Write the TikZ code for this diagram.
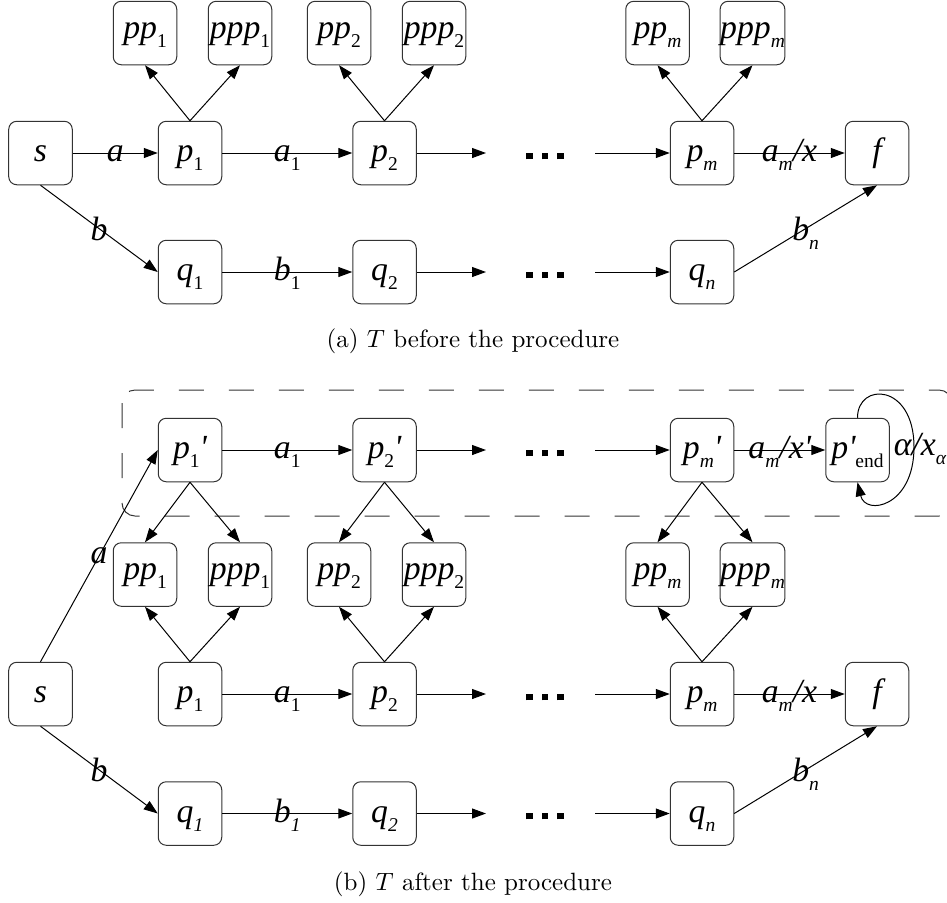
\documentclass[tikz,border=0pt]{standalone}
\usepackage{fontspec}
\usetikzlibrary{arrows.meta}
\newfontfamily\tnr{Liberation Serif}[Ligatures=ResetAll]
\newfontfamily\tnri{Liberation Serif Italic}[Ligatures=ResetAll]
\newcommand\mainf{\fontsize{13.5}{14}\selectfont\tnri}
\newcommand\sbs[1]{\raisebox{-3.6pt}{\fontsize{7.8}{8}\selectfont #1}}
\newcommand\upr{\tnr}
\newcommand\prm{\char"27\relax}
\newcommand\alp{\char"3B1\relax}
\newcommand\dotsq{\rule{2.7pt}{2.7pt}}
\tikzset{
  box/.style={draw=black!80, line width=0.4pt, rounded corners=3.2pt,
    minimum width=25.4pt, minimum height=25.4pt, inner sep=0pt,
    text height=7pt, text depth=0pt, font=\mainf},
  topbox/.style={box, text height=4pt},
  elbl/.style={font=\mainf, inner sep=0pt, anchor=base, yshift=-3.4pt},
  dlbl/.style={font=\mainf, inner sep=0pt, text depth=0pt, anchor=center},
  arr/.style={-{Triangle[length=5.6pt,width=4pt]}, line width=0.4pt},
  dotsnode/.style={inner sep=0pt},
  caption/.style={anchor=base, inner sep=0pt, font=\normalsize},
  groupbox/.style={draw=black!80, line width=0.4pt, rounded corners=5.2pt,
    dash pattern=on 10pt off 10pt}
}
\begin{document}
\begin{tikzpicture}[x=0.4pt,y=-0.4pt]
\useasboundingbox (0,0) rectangle (947,902);

%% ---------------- (a) ----------------
\node[box] (As) at (40.5,153) {s};
\node[box] (Ap1) at (190,153) {p\sbs{\upr 1}};
\node[box] (Ap2) at (384.5,153) {p\sbs{\upr 2}};
\node[box] (Apm) at (702,153) {p\sbs{m}};
\node[box] (Af) at (877,153) {f};
\node[topbox] (App1) at (145,33) {pp\sbs{\upr 1}};
\node[topbox] (Appp1) at (240,33) {ppp\sbs{\upr 1}};
\node[topbox] (App2) at (339,33) {pp\sbs{\upr 2}};
\node[topbox] (Appp2) at (434,33) {ppp\sbs{\upr 2}};
\node[topbox] (Appm) at (657.5,33) {pp\sbs{m}};
\node[topbox] (Apppm) at (752.5,33) {ppp\sbs{m}};
\node[box] (Aq1) at (190,272) {q\sbs{\upr 1}};
\node[box] (Aq2) at (384.5,272) {q\sbs{\upr 2}};
\node[box] (Aqn) at (702,272) {q\sbs{n}};
\node[dotsnode] (Ad1) at (545,156) {\dotsq\hspace{3.5pt}\dotsq\hspace{3.5pt}\dotsq};
\node[dotsnode] (Ad2) at (545,275) {\dotsq\hspace{3.5pt}\dotsq\hspace{3.5pt}\dotsq};
\coordinate (Ae1) at (486,153);
\coordinate (As1) at (595,153);
\coordinate (Ae2) at (486,272);
\coordinate (As2) at (595,272);

\draw[arr] (As) -- node[elbl]{a} (Ap1);
\draw[arr] (Ap1) -- node[elbl]{a\sbs{\upr 1}} (Ap2);
\draw[arr] (Ap2) -- (Ae1);
\draw[arr] (As1) -- (Apm);
\draw[arr] (Apm) -- node[elbl]{a\sbs{m}/x} (Af);
\draw[arr] (As.south) -- node[dlbl]{b} (Aq1.west);
\draw[arr] (Aq1) -- node[elbl]{b\sbs{\upr 1}} (Aq2);
\draw[arr] (Aq2) -- (Ae2);
\draw[arr] (As2) -- (Aqn);
\draw[arr] (Aqn.east) -- node[dlbl]{b\sbs{n}} (Af.south);
\foreach \i in {1,2,m}{
  \draw[arr] (Ap\i.north) -- (App\i.south);
  \draw[arr] (Ap\i.north) -- (Appp\i.south);
}
\node[caption] (capA) at (473,347) {(a) $T$ before the procedure};

%% ---------------- (b) ----------------
\draw[groupbox] (122,390) rectangle (952,516);

\node[box] (Bp1') at (190,450) {p\sbs{\upr 1}\prm};
\node[box] (Bp2') at (384.5,450) {p\sbs{\upr 2}\prm};
\node[box] (Bpm') at (702,450) {p\sbs{m}\prm};
\node[box] (Bpend) at (857.5,450) {p\prm\sbs{\upr end}};
\node[topbox] (Bpp1) at (145,574.5) {pp\sbs{\upr 1}};
\node[topbox] (Bppp1) at (240,574.5) {ppp\sbs{\upr 1}};
\node[topbox] (Bpp2) at (339,574.5) {pp\sbs{\upr 2}};
\node[topbox] (Bppp2) at (434,574.5) {ppp\sbs{\upr 2}};
\node[topbox] (Bppm) at (657.5,574.5) {pp\sbs{m}};
\node[topbox] (Bpppm) at (752.5,574.5) {ppp\sbs{m}};
\node[box] (Bs) at (40.5,694) {s};
\node[box] (Bp1) at (190,694) {p\sbs{\upr 1}};
\node[box] (Bp2) at (384.5,694) {p\sbs{\upr 2}};
\node[box] (Bpm) at (702,694) {p\sbs{m}};
\node[box] (Bf) at (877,694) {f};
\node[box] (Bq1) at (190,813.5) {q\sbs{1}};
\node[box] (Bq2) at (384.5,813.5) {q\sbs{2}};
\node[box] (Bqn) at (702,813.5) {q\sbs{n}};
\node[dotsnode] (Bd0) at (545,453) {\dotsq\hspace{3.5pt}\dotsq\hspace{3.5pt}\dotsq};
\node[dotsnode] (Bd1) at (545,697) {\dotsq\hspace{3.5pt}\dotsq\hspace{3.5pt}\dotsq};
\node[dotsnode] (Bd2) at (545,816) {\dotsq\hspace{3.5pt}\dotsq\hspace{3.5pt}\dotsq};
\coordinate (Be0) at (486,450);
\coordinate (Bs0) at (595,450);
\coordinate (Be1) at (486,694);
\coordinate (Bs1) at (595,694);
\coordinate (Be2) at (486,813.5);
\coordinate (Bs2) at (595,813.5);
\coordinate (loopR) at (914,447);

\draw[arr] (Bs.north) -- node[dlbl]{a} (Bp1'.west);
\draw[arr] (Bp1') -- node[elbl]{a\sbs{\upr 1}} (Bp2');
\draw[arr] (Bp2') -- (Be0);
\draw[arr] (Bs0) -- (Bpm');
\draw[arr] (Bpm') -- node[elbl]{a\sbs{m}/x\prm} (Bpend);
\draw[arr] (Bpend.north) .. controls ([yshift=14.4pt]Bpend.north) and ([yshift=25.6pt]loopR) .. (loopR)
   .. controls ([yshift=-24pt]loopR) and ([xshift=3.2pt,yshift=-13.6pt]Bpend.south) .. (Bpend.south);
\node[elbl, xshift=2.4pt] (loopL) at (loopR) {\alp/x\sbs{\alp}};

\foreach \i in {1,2,m}{
  \draw[arr] (Bp\i'.south) -- (Bpp\i.north);
  \draw[arr] (Bp\i'.south) -- (Bppp\i.north);
  \draw[arr] (Bp\i.north) -- (Bpp\i.south);
  \draw[arr] (Bp\i.north) -- (Bppp\i.south);
}
\draw[arr] (Bp1) -- node[elbl]{a\sbs{\upr 1}} (Bp2);
\draw[arr] (Bp2) -- (Be1);
\draw[arr] (Bs1) -- (Bpm);
\draw[arr] (Bpm) -- node[elbl]{a\sbs{m}/x} (Bf);
\draw[arr] (Bs.south) -- node[dlbl]{b} (Bq1.west);
\draw[arr] (Bq1) -- node[elbl]{b\sbs{1}} (Bq2);
\draw[arr] (Bq2) -- (Be2);
\draw[arr] (Bs2) -- (Bqn);
\draw[arr] (Bqn.east) -- node[dlbl]{b\sbs{n}} (Bf.south);
\node[caption] (capB) at (473,890) {(b) $T$ after the procedure};
\end{tikzpicture}
\end{document}
